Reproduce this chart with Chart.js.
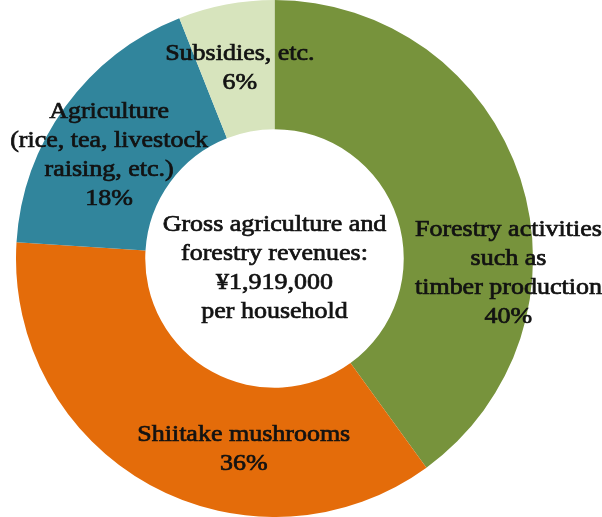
<!DOCTYPE html>
<html>
<head>
<meta charset="utf-8">
<script src="https://cdn.jsdelivr.net/npm/chart.js@4"></script>
<style>
  html, body { margin: 0; padding: 0; background: #fff; }
  #wrap { width: 602px; height: 517px; }
</style>
</head>
<body>
<div id="wrap"><canvas id="chart-donut"></canvas></div>
<script>
// data
var categories = ["Forestry activities such as timber production", "Shiitake mushrooms",
                  "Agriculture (rice, tea, livestock raising, etc.)", "Subsidies, etc."];
var shares = [40, 36, 18, 6];
var labelLines = [
    ["Forestry activities", "such as", "timber production", "40%"],
    ["Shiitake mushrooms", "36%"],
    ["Agriculture", "(rice, tea, livestock", "raising, etc.)", "18%"],
    ["Subsidies, etc.", "6%"]
];
var centerLines = ["Gross agriculture and", "forestry revenues:", "\u00a51,919,000", "per household"];

// label anchors, as a fraction of the outer radius from the centre
var labelPos = [[0.905, 0.058], [-0.119, 0.739], [-0.64, -0.397], [-0.134, -0.735]];
var colors = ["#77933c", "#e46c0a", "#31859c", "#d7e4bd"];

var FONT = '23px "Liberation Serif", "Times New Roman", serif';
var LINE_H = 29;
var STRETCH = 1.13;

function drawBlock(ctx, lines, x, y) {
    var top = y - (lines.length - 1) * LINE_H / 2;
    for (var i = 0; i < lines.length; i++) {
        ctx.save();
        ctx.translate(x, top + i * LINE_H);
        ctx.scale(STRETCH, 1);
        ctx.strokeText(lines[i], 0, 0);
        ctx.fillText(lines[i], 0, 0);
        ctx.restore();
    }
}

var textPlugin = {
    id: 'sliceText',
    afterDraw: function (chart) {
        var ctx = chart.ctx;
        var meta = chart.getDatasetMeta(0);
        var arc0 = meta.data[0];
        var cx = arc0.x, cy = arc0.y, R = arc0.outerRadius;
        ctx.save();
        ctx.font = FONT;
        ctx.fillStyle = "#121212";
        ctx.strokeStyle = "#121212";
        ctx.lineWidth = 0.7;
        ctx.textAlign = "center";
        ctx.textBaseline = "middle";
        for (var i = 0; i < meta.data.length; i++) {
            drawBlock(ctx, labelLines[i], cx + labelPos[i][0] * R, cy + labelPos[i][1] * R);
        }
        drawBlock(ctx, centerLines, cx, cy + 0.039 * R);
        ctx.restore();
    }
};

var ctx = document.getElementById("chart-donut");
var donut = new Chart(ctx, {
    type: 'doughnut',
    data: {
        labels: categories,
        datasets: [{
            data: shares,
            backgroundColor: colors,
            borderWidth: 0
        }]
    },
    options: {
        responsive: true,
        maintainAspectRatio: false,
        animation: false,
        cutout: '50%',
        layout: { padding: { top: 0, bottom: 0, left: 0, right: 53 } },
        plugins: {
            legend: { display: false },
            tooltip: { enabled: false }
        }
    },
    plugins: [textPlugin]
});
</script>
</body>
</html>
